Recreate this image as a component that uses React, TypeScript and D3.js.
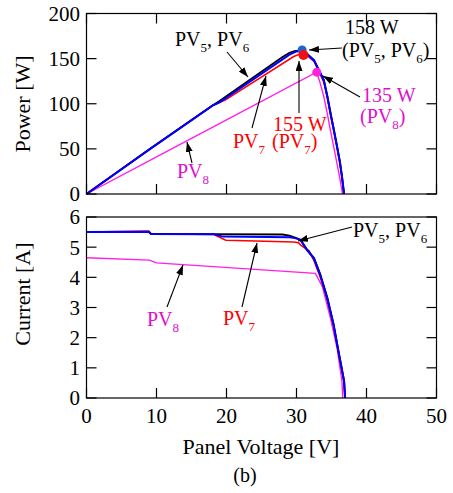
import React from 'react';
import * as d3 from 'd3';

// ---- axis ticks ----
const xTicks = [0, 10, 20, 30, 40, 50];
const pTicks = [0, 50, 100, 150, 200];
const iTicks = [0, 1, 2, 3, 4, 5, 6];

// ---- P-V curves (top panel) ----
const pv5PowerV = [0, 9, 18, 19, 28, 29, 29.8, 30.5, 31, 31.5, 32.5, 33.2, 33.9, 34.4, 34.86, 35.3, 35.8, 36.2, 36.5, 36.8];
const pv5Power = [0, 49.5, 98.1, 103, 151.8, 156.5, 158.5, 158.5, 157.5, 155.5, 148.5, 137.5, 126.5, 109, 90, 73, 53, 36, 19.5, 0];

const pv6PowerV = [0, 9, 18, 19, 29, 30, 30.8, 31.5, 32.5, 33.2, 33.9, 34.4, 34.86, 35.3, 35.8, 36.2, 36.5, 36.76, 36.8];
const pv6Power = [0, 49.5, 98, 101.5, 154.5, 158, 158.5, 155, 148, 137, 126, 108, 89, 72, 52, 35, 19, 3, 0];

const pv7PowerV = [0, 9, 18, 19.8, 29.6, 30.6, 31, 31.5, 32.5, 33.2, 33.9, 34.4, 34.86, 35.3, 35.8, 36.2, 36.5, 36.75];
const pv7Power = [0, 49.7, 98.1, 104, 152.4, 155.4, 155, 153.5, 147, 136, 124, 107, 88, 71, 51, 34, 18, 0];

const pv8PowerV = [0, 10, 20, 32.86, 33.3, 33.9, 34.4, 34.86, 35.33, 35.8, 36.2, 36.5, 36.55];
const pv8Power = [0, 41.1, 82.2, 135, 125, 108, 89, 70, 52, 33, 17, 4, 0];

// ---- I-V curves (bottom panel) ----
const pv5CurrentV = [0, 8.9, 9.2, 18, 28, 29, 30, 30.6, 31.5, 32.5, 33.4, 34.4, 35.3, 36.0, 36.8, 36.95];
const pv5Current = [5.5, 5.51, 5.44, 5.43, 5.42, 5.38, 5.3, 5.24, 4.92, 4.64, 4.1, 3.33, 2.45, 1.56, 0.58, 0];

const pv6CurrentV = [0, 8.9, 9.2, 18.2, 19.5, 29, 29.8, 30.57, 31.5, 32.5, 33.4, 34.4, 35.3, 36.0, 36.8, 36.95];
const pv6Current = [5.5, 5.51, 5.44, 5.43, 5.35, 5.33, 5.3, 5.24, 4.9, 4.62, 4.07, 3.3, 2.42, 1.53, 0.55, 0];

const pv7CurrentV = [0, 8.9, 9.2, 18.2, 19.9, 29.6, 30.3, 30.6, 31.3, 31.8, 32.5, 33.4, 34.4, 35.3, 36.0, 36.8, 36.9];
const pv7Current = [5.5, 5.53, 5.45, 5.42, 5.23, 5.17, 5.15, 5.07, 4.95, 4.88, 4.55, 4.0, 3.25, 2.38, 1.5, 0.5, 0];

const pv8CurrentV = [0, 9, 10, 32.7, 33.7, 34.86, 35.8, 36.5, 36.6];
const pv8Current = [4.65, 4.57, 4.48, 4.13, 3.69, 2.64, 1.65, 0.54, 0];

// ---- maximum power points ----
const mppV = [30.8, 31.0, 32.9];
const mppP = [159.5, 154, 135];

const BLACK = '#000000';
const BLUE = '#0000ff';
const RED = '#ff0000';
const PINK = '#ff20e8';
const PINK_TXT = '#dd10cc';
const FONT = "'Liberation Serif', 'Times New Roman', Times, serif";

type Part = [string, boolean];

function Label({ x, y, parts, color, size = 20 }: { x: number; y: number; parts: Part[]; color: string; size?: number }) {
  const out: React.ReactNode[] = [];
  let shifted = false;
  parts.forEach(([t, sub], i) => {
    if (sub) {
      out.push(<tspan key={i} dy={6} style={{ fontSize: size * 0.65 }}>{t}</tspan>);
      shifted = true;
    } else {
      out.push(<tspan key={i} dy={shifted ? -6 : 0} style={{ fontSize: size }}>{t}</tspan>);
      shifted = false;
    }
  });
  return (
    <text x={x} y={y} fill={color} style={{ fontFamily: FONT, fontSize: size, whiteSpace: 'pre' }}>
      {out}
    </text>
  );
}

function Arrow({ x1, y1, x2, y2 }: { x1: number; y1: number; x2: number; y2: number }) {
  return <line x1={x1} y1={y1} x2={x2} y2={y2} stroke="#000" strokeWidth={1.1} markerEnd="url(#ah)" />;
}

export default function App() {
  const W = 453;
  const H = 493;
  const x0 = 86.5, x1 = 436.5;
  const x = d3.scaleLinear().domain([0, 50]).range([x0, x1]);
  const yP = d3.scaleLinear().domain([0, 200]).range([194, 13.5]);
  const yI = d3.scaleLinear().domain([0, 6]).range([398, 217]);

  const lineP = (vs: number[], ps: number[]) =>
    d3.line<number>().x((_, i) => x(vs[i])).y((d) => yP(d))(ps) || '';
  const lineI = (vs: number[], is: number[]) =>
    d3.line<number>().x((_, i) => x(vs[i])).y((d) => yI(d))(is) || '';

  const TL = 10;
  const pTop = yP(200), pBot = yP(0);
  const iTop = yI(6), iBot = yI(0);
  const tickStyle = { fontFamily: FONT, fontSize: 21 };
  const titleStyle = { fontFamily: FONT, fontSize: 22 };

  return (
    <svg width={W} height={H} style={{ position: 'absolute', left: 0, top: 0, background: '#fff' }}>
      <defs>
        <marker id="ah" markerUnits="userSpaceOnUse" markerWidth={10} markerHeight={7} refX={10} refY={3.5} orient="auto">
          <path d="M0,0 L10,3.5 L0,7 z" fill="#000" />
        </marker>
      </defs>

      {/* ---------- TOP PANEL ---------- */}
      <g>
        <path d={lineP(pv8PowerV, pv8Power)} fill="none" stroke={PINK} strokeWidth={1.4} />
        <path d={lineP(pv7PowerV, pv7Power)} fill="none" stroke={RED} strokeWidth={1.6} />
        <path d={lineP(pv5PowerV, pv5Power)} fill="none" stroke={BLACK} strokeWidth={1.8} />
        <path d={lineP(pv6PowerV, pv6Power)} fill="none" stroke={BLUE} strokeWidth={2} />
        <circle cx={x(mppV[0])} cy={yP(mppP[0])} r={4.5} fill="#1f5fd8" />
        <circle cx={x(mppV[1])} cy={yP(mppP[1])} r={5} fill="#f01010" />
        <circle cx={x(mppV[2])} cy={yP(mppP[2])} r={4.5} fill="#ff22dd" />

        <rect x={x0} y={pTop} width={x1 - x0} height={pBot - pTop} fill="none" stroke="#000" strokeWidth={1.2} />
        {pTicks.map((t) => (
          <g key={'pt' + t}>
            <line x1={x0} x2={x0 + TL} y1={yP(t)} y2={yP(t)} stroke="#000" strokeWidth={1.2} />
            <line x1={x1 - TL} x2={x1} y1={yP(t)} y2={yP(t)} stroke="#000" strokeWidth={1.2} />
            <text x={80} y={yP(t)} dy="0.35em" textAnchor="end" style={tickStyle}>{t}</text>
          </g>
        ))}
        {xTicks.map((t) => (
          <g key={'xt' + t}>
            <line x1={x(t)} x2={x(t)} y1={pBot} y2={pBot - TL} stroke="#000" strokeWidth={1.2} />
            <line x1={x(t)} x2={x(t)} y1={pTop} y2={pTop + TL} stroke="#000" strokeWidth={1.2} />
          </g>
        ))}
        <text transform={`translate(30,104) rotate(-90)`} textAnchor="middle" style={titleStyle}>Power [W]</text>

        <Label x={175} y={46} color={BLACK} parts={[['PV', false], ['5', true], [', PV', false], ['6', true]]} />
        <Arrow x1={227} y1={52} x2={248} y2={77} />
        <Label x={345} y={34} color={BLACK} parts={[['158 W', false]]} />
        <Label x={342} y={57} color={BLACK} parts={[['(PV', false], ['5', true], [', PV', false], ['6', true], [')', false]]} />
        <Arrow x1={342} y1={48} x2={309} y2={50} />
        <Label x={273} y={131} color={RED} parts={[['155 W', false]]} />
        <Arrow x1={299} y1={113} x2={299} y2={61} />
        <Label x={233} y={148} color={RED} parts={[['PV', false], ['7', true]]} />
        <Label x={272} y={148} color={RED} parts={[['(PV', false], ['7', true], [')', false]]} />
        <Arrow x1={252} y1={128} x2={266} y2={76} />
        <Label x={362} y={102} color={PINK_TXT} parts={[['135 W', false]]} />
        <Label x={360} y={123} color={PINK_TXT} parts={[['(PV', false], ['8', true], [')', false]]} />
        <Arrow x1={360} y1={97} x2={323} y2={76} />
        <Label x={177} y={178} color={PINK_TXT} parts={[['PV', false], ['8', true]]} />
        <Arrow x1={192} y1={163} x2={187} y2={142} />
      </g>

      {/* ---------- BOTTOM PANEL ---------- */}
      <g>
        <path d={lineI(pv8CurrentV, pv8Current)} fill="none" stroke={PINK} strokeWidth={1.4} />
        <path d={lineI(pv7CurrentV, pv7Current)} fill="none" stroke={RED} strokeWidth={1.6} />
        <path d={lineI(pv5CurrentV, pv5Current)} fill="none" stroke={BLACK} strokeWidth={1.8} />
        <path d={lineI(pv6CurrentV, pv6Current)} fill="none" stroke={BLUE} strokeWidth={2} />

        <rect x={x0} y={iTop} width={x1 - x0} height={iBot - iTop} fill="none" stroke="#000" strokeWidth={1.2} />
        {iTicks.map((t) => (
          <g key={'it' + t}>
            <line x1={x0} x2={x0 + TL} y1={yI(t)} y2={yI(t)} stroke="#000" strokeWidth={1.2} />
            <line x1={x1 - TL} x2={x1} y1={yI(t)} y2={yI(t)} stroke="#000" strokeWidth={1.2} />
            <text x={80} y={yI(t)} dy="0.35em" textAnchor="end" style={tickStyle}>{t}</text>
          </g>
        ))}
        {xTicks.map((t) => (
          <g key={'xb' + t}>
            <line x1={x(t)} x2={x(t)} y1={iBot} y2={iBot - TL} stroke="#000" strokeWidth={1.2} />
            <text x={x(t)} y={423} textAnchor="middle" style={tickStyle}>{t}</text>
          </g>
        ))}
        <text transform={`translate(30,294) rotate(-90)`} textAnchor="middle" style={titleStyle}>Current [A]</text>
        <text x={261} y={454} textAnchor="middle" style={titleStyle}>Panel Voltage [V]</text>
        <text x={245} y={482} textAnchor="middle" style={{ fontFamily: FONT, fontSize: 20 }}>(b)</text>

        <Label x={353} y={237} color={BLACK} parts={[['PV', false], ['5', true], [', PV', false], ['6', true]]} />
        <Arrow x1={352} y1={227} x2={298} y2={241} />
        <Label x={223} y={325} color={RED} parts={[['PV', false], ['7', true]]} />
        <Arrow x1={242} y1={307} x2={257} y2={243} />
        <Label x={147} y={326} color={PINK_TXT} parts={[['PV', false], ['8', true]]} />
        <Arrow x1={167} y1={307} x2={183} y2={265} />
      </g>
    </svg>
  );
}
